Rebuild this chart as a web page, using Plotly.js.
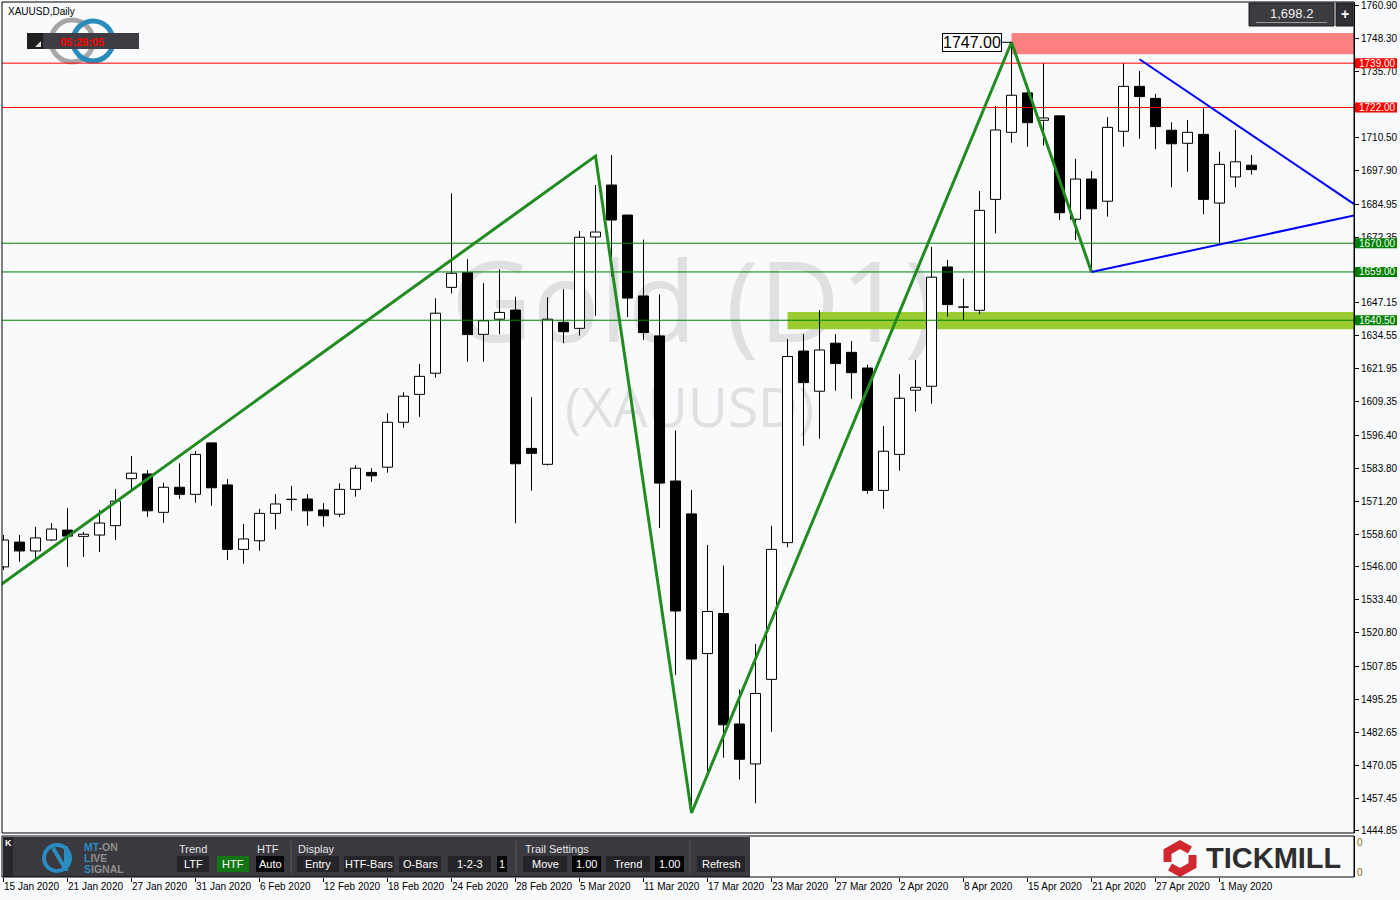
<!DOCTYPE html>
<html><head><meta charset="utf-8">
<script src="https://cdn.plot.ly/plotly-3.0.1.min.js"></script>
<style>
html,body{margin:0;padding:0;background:#f8fafc;}
#bg,#chart{position:absolute;left:0;top:0;width:1400px;height:900px;}
</style></head>
<body><div id="bg"></div><div id="chart"></div>
<script>
// ---------------- data ----------------
const dates = ['15 Jan 2020','16 Jan 2020','17 Jan 2020','20 Jan 2020','21 Jan 2020','22 Jan 2020','23 Jan 2020','24 Jan 2020','27 Jan 2020','28 Jan 2020','29 Jan 2020','30 Jan 2020','31 Jan 2020','3 Feb 2020','4 Feb 2020','5 Feb 2020','6 Feb 2020','7 Feb 2020','10 Feb 2020','11 Feb 2020','12 Feb 2020','13 Feb 2020','14 Feb 2020','17 Feb 2020','18 Feb 2020','19 Feb 2020','20 Feb 2020','21 Feb 2020','24 Feb 2020','25 Feb 2020','26 Feb 2020','27 Feb 2020','28 Feb 2020','2 Mar 2020','3 Mar 2020','4 Mar 2020','5 Mar 2020','6 Mar 2020','9 Mar 2020','10 Mar 2020','11 Mar 2020','12 Mar 2020','13 Mar 2020','16 Mar 2020','17 Mar 2020','18 Mar 2020','19 Mar 2020','20 Mar 2020','23 Mar 2020','24 Mar 2020','25 Mar 2020','26 Mar 2020','27 Mar 2020','30 Mar 2020','31 Mar 2020','1 Apr 2020','2 Apr 2020','3 Apr 2020','6 Apr 2020','7 Apr 2020','8 Apr 2020','9 Apr 2020','13 Apr 2020','14 Apr 2020','15 Apr 2020','16 Apr 2020','17 Apr 2020','20 Apr 2020','21 Apr 2020','22 Apr 2020','23 Apr 2020','24 Apr 2020','27 Apr 2020','28 Apr 2020','29 Apr 2020','30 Apr 2020','1 May 2020','4 May 2020','5 May 2020'];

const open = [1546.0,1555.5,1552.1,1556.3,1560.1,1557.7,1558.2,1561.8,1579.8,1581.6,
1566.9,1576.5,1573.8,1593.5,1577.4,1552.7,1556.0,1566.5,1571.9,1572.0,
1567.8,1566.2,1575.7,1582.2,1584.2,1601.4,1612.1,1620.2,1653.1,1658.7,
1635.1,1640.9,1644.4,1591.4,1585.3,1639.7,1637.4,1672.4,1692.3,1680.8,
1649.8,1634.5,1578.9,1566.3,1512.8,1528.1,1485.8,1470.5,1502.9,1555.3,
1628.7,1613.3,1631.7,1628.2,1622.2,1575.3,1589.1,1613.7,1615.2,1660.9,
1645.5,1644.3,1686.8,1712.5,1727.6,1717.1,1718.8,1679.2,1694.6,1686.1,
1712.9,1730.1,1725.5,1713.3,1708.3,1711.7,1685.4,1695.4,1699.9];

const high = [1558.2,1558.2,1561.3,1562.8,1568.6,1559.4,1567.8,1575.8,1588.5,1583.1,
1578.3,1585.7,1590.4,1593.7,1579.6,1562.4,1568.2,1573.9,1577.0,1573.9,
1570.4,1578.0,1585.0,1583.8,1604.8,1612.9,1623.7,1648.9,1689.1,1663.9,
1654.7,1660.0,1649.5,1611.0,1649.3,1652.4,1674.7,1692.3,1703.8,1680.8,
1671.4,1650.4,1598.3,1575.5,1554.4,1546.5,1499.0,1516.5,1561.7,1633.3,
1635.2,1644.4,1635.2,1632.5,1623.4,1600.0,1619.9,1625.3,1668.6,1663.6,
1656.5,1690.0,1722.6,1747.0,1730.9,1739.0,1718.8,1702.3,1697.7,1718.3,
1739.0,1736.0,1727.2,1716.3,1717.2,1721.7,1705.1,1713.4,1703.8];

const low = [1544.8,1547.9,1549.4,1555.9,1546.0,1549.8,1551.7,1556.3,1575.5,1565.2,
1562.9,1572.0,1570.6,1569.4,1548.6,1547.2,1552.2,1560.4,1567.5,1561.8,
1561.4,1565.2,1572.9,1578.6,1582.1,1599.3,1603.5,1618.5,1650.8,1624.6,
1624.6,1635.1,1562.7,1575.2,1584.8,1631.7,1634.6,1642.2,1657.3,1641.7,
1632.9,1560.9,1504.6,1451.7,1465.5,1472.9,1464.5,1455.4,1482.8,1553.5,
1592.4,1595.1,1613.5,1610.4,1574.0,1568.3,1582.9,1605.5,1608.5,1641.9,
1640.6,1642.8,1673.8,1708.5,1707.0,1707.4,1678.9,1671.2,1659.0,1680.2,
1707.0,1710.1,1706.0,1691.4,1697.4,1681.1,1670.2,1691.4,1696.3];

const close = [1556.3,1552.1,1557.1,1560.5,1557.8,1558.5,1562.8,1571.2,1581.9,1567.5,
1576.5,1573.8,1589.1,1576.3,1552.7,1556.7,1566.5,1570.1,1571.8,1567.5,
1565.6,1575.7,1583.8,1580.9,1601.4,1611.4,1619.0,1643.2,1658.5,1635.0,
1640.3,1643.5,1585.5,1589.5,1640.9,1636.1,1672.3,1674.3,1678.9,1649.0,
1635.8,1578.1,1529.1,1510.7,1528.9,1485.5,1472.3,1497.5,1552.7,1626.6,
1616.6,1629.1,1623.9,1620.4,1575.3,1590.3,1610.6,1614.8,1657.0,1646.5,
1645.6,1682.6,1713.4,1726.7,1716.2,1718.0,1681.7,1694.6,1683.2,1714.4,
1730.1,1726.2,1714.7,1708.1,1712.5,1686.8,1700.2,1701.2,1698.2];

const priceTicks = [1760.90,1748.30,1735.70,1710.50,1697.90,1684.95,1672.35,1647.15,1634.55,1621.95,1609.35,1596.40,1583.80,1571.20,1558.60,1546.00,1533.40,1520.80,1507.85,1495.25,1482.65,1470.05,1457.45,1444.85];

const zigzagBar   = [-1, 37, 43, 63, 68];
const zigzagPrice = [1535.5, 1703.4, 1451.7, 1747.0, 1659.0];
const upperTrendBar = [71, 84.41];
const upperTrendPrice = [1740.5, 1685.0];
const lowerTrendBar = [68, 84.41];
const lowerTrendPrice = [1659.0, 1680.6];

const redLevels = [1739.00, 1722.00];
const greenLevels = [1670.00, 1659.00, 1640.50];
const resistZoneBar = 63, resistZoneLow = 1742.4, resistZoneHigh = 1750.6;
const supportZoneBar = 49, supportZoneLow = 1637.0, supportZoneHigh = 1643.7;
const peakBar = 63, peakPrice = 1747.00;
const lastPrice = '1,698.2';
const clockText = '05:28:05';
const symbolText = 'XAUUSD,Daily';

// ---------------- build traces ----------------
const F = '"Liberation Sans", Arial, sans-serif';
const bullX=[],bullB=[],bullH=[],bearX=[],bearB=[],bearH=[],wx=[],wy=[];
dates.forEach((d,i)=>{
  const top=Math.max(open[i],close[i]), bot=Math.min(open[i],close[i]);
  if(close[i]>=open[i]){bullX.push(i);bullB.push(bot);bullH.push(Math.max(top-bot,0.05));}
  else {bearX.push(i);bearB.push(bot);bearH.push(Math.max(top-bot,0.05));}
  wx.push(i,i,null,i,i,null); wy.push(high[i],top,null,bot,low[i],null);
});

const traces = [
  {type:'scatter',mode:'lines',x:wx,y:wy,line:{color:'#000',width:1},hoverinfo:'skip',connectgaps:false},
  {type:'bar',x:bullX,y:bullH,base:bullB,width:0.625,marker:{color:'#ffffff',line:{color:'#000',width:1}},hoverinfo:'skip'},
  {type:'bar',x:bearX,y:bearH,base:bearB,width:0.625,marker:{color:'#000000',line:{color:'#000',width:1}},hoverinfo:'skip'}
];
redLevels.forEach(v=>traces.push({type:'scatter',mode:'lines',x:[-5,100],y:[v,v],line:{color:'#ff0000',width:1},hoverinfo:'skip'}));
greenLevels.forEach(v=>traces.push({type:'scatter',mode:'lines',x:[-5,100],y:[v,v],line:{color:'#008000',width:1},hoverinfo:'skip'}));
traces.push(
  {type:'scatter',mode:'lines',x:zigzagBar,y:zigzagPrice,line:{color:'#228b22',width:3},hoverinfo:'skip'},
  {type:'scatter',mode:'lines',x:upperTrendBar,y:upperTrendPrice,line:{color:'#0000ff',width:2},hoverinfo:'skip'},
  {type:'scatter',mode:'lines',x:lowerTrendBar,y:lowerTrendPrice,line:{color:'#0000ff',width:2},hoverinfo:'skip'},
  {type:'scatter',mode:'markers',x:[0],y:[0.5],xaxis:'x',yaxis:'y2',marker:{opacity:0},hoverinfo:'skip'}
);

const tickvals=[],ticktext=[];
dates.forEach((d,i)=>{ if(i%4===0){tickvals.push(i);ticktext.push(d);} });

const shapes = [
  {type:'rect',xref:'x',yref:'y',x0:resistZoneBar,x1:200,y0:resistZoneLow,y1:resistZoneHigh,fillcolor:'#ff8080',line:{width:0},layer:'below'},
  {type:'rect',xref:'x',yref:'y',x0:supportZoneBar,x1:200,y0:supportZoneLow,y1:supportZoneHigh,fillcolor:'#9acd32',line:{width:0},layer:'below'},
  {type:'line',xref:'x',yref:'y',x0:peakBar-0.62,x1:peakBar,y0:peakPrice,y1:peakPrice,line:{color:'#000',width:1}},
  {type:'rect',xref:'x domain',yref:'y domain',x0:0,x1:1,y0:0,y1:1,line:{color:'#000',width:1}},
  {type:'rect',xref:'x domain',yref:'y2 domain',x0:0,x1:1,y0:0,y1:1,line:{color:'#000',width:1}}
];

const annotations = [
  {xref:'x',yref:'y',x:peakBar,y:peakPrice,xanchor:'right',yanchor:'middle',xshift:-10,text:peakPrice.toFixed(2),showarrow:false,
   font:{family:F,size:16,color:'#000'},bgcolor:'#ffffff',bordercolor:'#000',borderwidth:1,borderpad:0}
];
function levelLabel(v,col){
  shapes.push({type:'rect',xref:'paper',yref:'y',xsizemode:'pixel',ysizemode:'pixel',xanchor:1,yanchor:v,x0:1,x1:43,y0:-5,y1:5,fillcolor:col,line:{width:0},layer:'above'});
  annotations.push({xref:'paper',yref:'y',x:1,y:v,xanchor:'left',yanchor:'middle',xshift:3,text:v.toFixed(2),showarrow:false,font:{family:F,size:10,color:'#ffffff'}});
}
redLevels.forEach(v=>levelLabel(v,'#ff0000'));
greenLevels.forEach(v=>levelLabel(v,'#008000'));

const layout = {
  width:1400,height:900,margin:{l:2,r:46,t:2,b:23,pad:0},
  paper_bgcolor:'rgba(0,0,0,0)',plot_bgcolor:'rgba(0,0,0,0)',
  showlegend:false,barmode:'overlay',dragmode:false,hovermode:false,
  font:{family:F,size:10,color:'#000'},
  xaxis:{range:[-0.09375,84.40625],anchor:'y2',tickmode:'array',tickvals:tickvals,ticktext:ticktext,tickangle:0,
         ticks:'outside',ticklen:4,tickcolor:'#000',showgrid:false,zeroline:false,showline:false,
         ticklabelposition:'outside right',ticklabeloverflow:'allow',tickfont:{family:F,size:10,color:'#000'}},
  yaxis:{domain:[0.050286,1],range:[1444.04,1762.43],side:'right',anchor:'x',tickmode:'array',
         tickvals:priceTicks,ticktext:priceTicks.map(v=>v.toFixed(2)),ticks:'outside',ticklen:4,tickcolor:'#000',
         ticklabeloverflow:'allow',
         showgrid:false,zeroline:false,showline:true,linecolor:'#000',linewidth:1,tickfont:{family:F,size:10,color:'#000'}},
  yaxis2:{domain:[0,0.046857],range:[0,1],side:'right',anchor:'x',tickmode:'array',tickvals:[0.12,0.83],ticktext:['0','0'],
          ticks:'',showgrid:false,zeroline:false,showline:true,linecolor:'#000',tickfont:{family:F,size:10,color:'#8a6d00'}},
  shapes:shapes,annotations:annotations
};

// ---------------- background / decoration layer (pixel coords) ----------------
const bgShapes=[], bgAnn=[];
function R(x0,y0,x1,y1,fill,line){bgShapes.push({type:'rect',xref:'x',yref:'y',x0:x0,x1:x1,y0:y0,y1:y1,fillcolor:fill,line:line||{width:0}});}
function L(x0,y0,x1,y1,col,w){bgShapes.push({type:'line',xref:'x',yref:'y',x0:x0,x1:x1,y0:y0,y1:y1,line:{color:col,width:w}});}
function T(text,x,y,size,color,anchor,fam){bgAnn.push({xref:'x',yref:'y',x:x,y:y,text:text,showarrow:false,xanchor:anchor||'left',yanchor:'middle',
  font:{family:fam||F,size:size,color:color}});}

// watermark
bgAnn.push({xref:'x',yref:'y',x:694,y:298,text:'Gold (D1)',showarrow:false,xanchor:'center',yanchor:'middle',font:{family:'"Open Sans", "DejaVu Sans", sans-serif',size:112,color:'#dfe0e2'}});
bgAnn.push({xref:'x',yref:'y',x:689,y:405,text:'(XAUUSD)',showarrow:false,xanchor:'center',yanchor:'middle',font:{family:'"Open Sans", "DejaVu Sans", sans-serif',size:55,color:'#dfe0e2'}});

// top-left symbol, logo and clock
T(symbolText,6,11,10,'#000');
bgShapes.push({type:'circle',xref:'x',yref:'y',x0:51,x1:93,y0:20,y1:62,line:{color:'#a6a6a6',width:5}});
bgShapes.push({type:'circle',xref:'x',yref:'y',x0:73,x1:113,y0:21,y1:61,line:{color:'#2a8cba',width:5}});
R(27,33,139,49,'#3e3d43');
R(27,33,43,49,'#1f1f1f');
bgShapes.push({type:'path',xref:'x',yref:'y',path:'M 35 47 L 41 47 L 41 41 Z',fillcolor:'#dddddd',line:{width:0}});
T('<b>'+clockText+'</b>',82,41.5,11,'#ff0000','center');

// top-right price box
R(1249,3,1334,26,'#3b3b40',{color:'#1c1c1c',width:1});
R(1336,3,1353,26,'#2f2f34',{color:'#1c1c1c',width:1});
L(1256,22.5,1327,22.5,'#9a9a9a',1);
T(lastPrice,1291,13.5,13,'#f0f0f0','center');
T('<b>+</b>',1344.5,14,14,'#ffffff','center');

// bottom toolbar
R(3,837,750,877,'#3a393f');
R(3,837,13,877,'#27262b');
T('<b>K</b>',8,843,9,'#ffffff','center');
bgShapes.push({type:'circle',xref:'x',yref:'y',x0:44,x1:70,y0:845,y1:871,line:{color:'#2a8cc0',width:4}});
L(66,846,66,871,'#2a8cc0',4);
L(53,848,66,870,'#2a8cc0',4);
T('<b><span style="color:#2a8cc0">MT</span>-ON</b>',82,847,10.5,'#8e8e8e');
T('<b><span style="color:#2a8cc0">L</span>IVE</b>',82,858,10.5,'#8e8e8e');
T('<b><span style="color:#2a8cc0">S</span>IGNAL</b>',82,869,10.5,'#8e8e8e');
T('Trend',177,849,11,'#e6e6e6');
T('HTF',255,849,11,'#e6e6e6');
T('Display',296,849,11,'#e6e6e6');
T('Trail Settings',523,849,11,'#e6e6e6');
const buttons = [[177,209,'LTF','#252428'],[217,249,'HTF','#127512'],[256,284,'Auto','#050505'],[297,339,'Entry','#252428'],
  [344,394,'HTF-Bars','#252428'],[399,441,'O-Bars','#252428'],[448,491,'1-2-3','#252428'],[497,507,'1','#050505'],
  [523,567,'Move','#252428'],[572,601,'1.00','#050505'],[606,650,'Trend','#252428'],[655,684,'1.00','#050505'],[697,745,'Refresh','#252428']];
buttons.forEach(b=>{R(b[0],856,b[1],872,b[3]); T(b[2],(b[0]+b[1])/2,864,11,'#ffffff','center');});
[291,516,690].forEach(x=>L(x,841,x,874,'#5a5960',1));

// Tickmill logo
bgShapes.push({type:'path',xref:'x',yref:'y',path:'M 1190 850 L 1180 844.5 L 1167.5 851.5 L 1167.5 862',line:{color:'#d0282e',width:8}});
bgShapes.push({type:'path',xref:'x',yref:'y',path:'M 1170 867 L 1180 872.5 L 1192.5 865.5 L 1192.5 855',line:{color:'#d0282e',width:8}});
T('<b>TICKMILL</b>',1204,858,29,'#2e2e2e','left');

const bgLayout = {width:1400,height:900,margin:{l:0,r:0,t:0,b:0,pad:0},paper_bgcolor:'#f8fafc',plot_bgcolor:'#f8fafc',
  xaxis:{range:[0,1400],visible:false,fixedrange:true},yaxis:{range:[900,0],visible:false,fixedrange:true},
  showlegend:false,shapes:bgShapes,annotations:bgAnn,dragmode:false,hovermode:false};

Plotly.newPlot('bg',[],bgLayout,{displayModeBar:false,staticPlot:true});
Plotly.newPlot('chart',traces,layout,{displayModeBar:false,staticPlot:true});
</script>
</body></html>
